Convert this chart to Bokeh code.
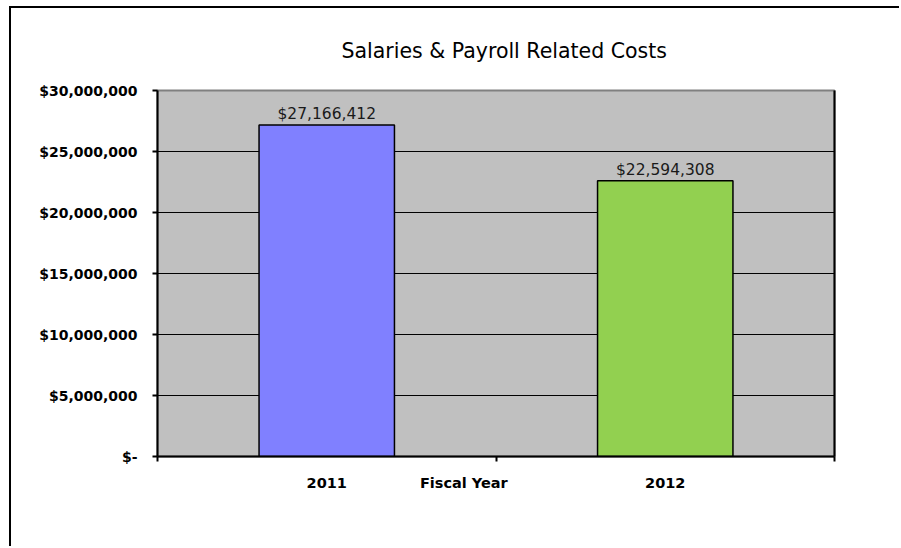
from bokeh.plotting import figure
from bokeh.models import (ColumnDataSource, Range1d, LinearAxis,
                          FixedTicker, NumeralTickFormatter)
from bokeh.core.properties import value
from bokeh.embed import file_html
from bokeh.resources import INLINE

title_text = "Salaries & Payroll Related Costs"
years = ["2011", "2012"]
costs = [27166412, 22594308]
bar_colors = ["#8080FF", "#92D050"]
x_axis_title = "Fiscal Year"
y_ticks = [0, 5000000, 10000000, 15000000, 20000000, 25000000, 30000000]

# category slots: each year occupies one unit-wide slot, bar at slot centre
slot_centres = [i + 0.5 for i in range(len(years))]
slot_edges = [i for i in range(len(years) + 1)]
labels = ["${:,.0f}".format(v) for v in costs]
src = ColumnDataSource(dict(x=slot_centres, year=years, cost=costs, color=bar_colors, label=labels))

p = figure(width=890, height=540, x_range=Range1d(0, len(years)), y_range=Range1d(0, 30000000),
           output_backend="svg", toolbar_location=None, x_axis_location=None,
           y_axis_location="left",
           min_border_left=146, min_border_right=67, min_border_top=82, min_border_bottom=92)
p.styles = {"margin-left": "9px", "margin-top": "6px",
            "border-left": "2px solid black", "border-top": "2px solid black"}

p.background_fill_color = "#C0C0C0"
p.border_fill_color = "white"
p.outline_line_color = "#808080"
p.outline_line_width = 2

# title
p.title.text = title_text
p.title.align = "left"
p.title.offset = 184
p.title.standoff = 56
p.title.text_font = "DejaVu Sans"
p.title.text_font_style = "normal"
p.title.text_font_size = "20.5px"
p.title.text_color = "black"

# y axis
ya = p.yaxis[0]
ya.ticker = FixedTicker(ticks=y_ticks)
ya.formatter = NumeralTickFormatter(format="$0,0")
ya.major_label_overrides = {0: "$-"}
ya.major_tick_out = 5
ya.major_tick_in = 0
ya.major_tick_line_width = 2
ya.minor_tick_line_color = None
ya.axis_line_width = 2
ya.axis_line_color = "black"
ya.major_label_standoff = 15
ya.major_label_text_font = "DejaVu Sans"
ya.major_label_text_font_style = "bold"
ya.major_label_text_font_size = "14px"
ya.major_label_text_color = "black"

p.ygrid.ticker = FixedTicker(ticks=y_ticks[1:-1])
p.ygrid.grid_line_color = "black"
p.ygrid.grid_line_width = 1
p.xgrid.visible = False

# bars
p.vbar(x="x", top="cost", width=0.4, source=src, fill_color="color",
       line_color="black", line_width=1.5)

# data labels
p.text(x="x", y="cost", text="label", source=src, text_align="center",
       text_baseline="alphabetic", y_offset=-11, text_font=value("DejaVu Sans"),
       text_font_size="15.5px", text_color="#1a1a1a")

# bottom axis with edge ticks (no labels)
ax_edges = LinearAxis(ticker=FixedTicker(ticks=slot_edges),
                      major_label_overrides={e: "" for e in slot_edges},
                      major_tick_out=5, major_tick_in=0, minor_tick_line_color=None,
                      major_label_standoff=0,
                      axis_line_color="black", axis_line_width=2, major_tick_line_width=2)
p.add_layout(ax_edges, "below")

# category labels plus the axis title on the same line
x_title_pos = 0.905
cat_ticks = slot_centres + [x_title_pos]
cat_labels = {c: y for c, y in zip(slot_centres, years)}
cat_labels[x_title_pos] = x_axis_title
ax_cat = LinearAxis(ticker=FixedTicker(ticks=cat_ticks),
                    major_label_overrides=cat_labels,
                    axis_line_color=None, major_tick_line_color=None,
                    minor_tick_line_color=None,
                    major_tick_out=0, major_tick_in=0, major_label_standoff=13,
                    major_label_text_font="DejaVu Sans",
                    major_label_text_font_style="bold",
                    major_label_text_font_size="14.5px",
                    major_label_text_color="black")
p.add_layout(ax_cat, "below")

# right edge line
ax_right = LinearAxis(ticker=FixedTicker(ticks=[]), axis_line_color="black", axis_line_width=2,
                      major_tick_out=0, major_tick_in=0, minor_tick_line_color=None)
p.add_layout(ax_right, "right")

open("out.html", "w").write(file_html(p, INLINE))
